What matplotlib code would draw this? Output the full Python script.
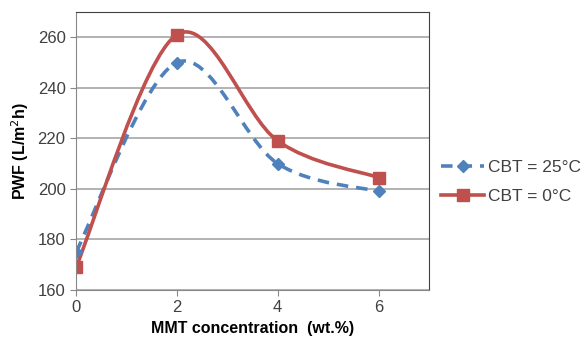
import matplotlib.pyplot as plt
import numpy as np
from matplotlib.path import Path
from matplotlib.patches import PathPatch
from matplotlib.lines import Line2D

plt.rcParams['font.family'] = ['Liberation Sans', 'DejaVu Sans']

mmt = [0, 2, 4, 6]
pwf_25 = [175, 250, 210, 199]
pwf_0 = [169, 261, 219, 204.5]
labels = ['CBT = 25°C', 'CBT = 0°C']

BLUE = '#4F81BD'
RED = '#C0504D'


def smooth_path(x, y):
    """Excel-style smoothed line as cubic Bezier segments."""
    pts = np.column_stack([x, y]).astype(float)
    n = len(pts)
    verts = [pts[0]]
    codes = [Path.MOVETO]
    for i in range(n - 1):
        p0 = pts[i - 1] if i > 0 else pts[i]
        p3 = pts[i + 2] if i + 2 < n else pts[i + 1]
        c1 = pts[i] + (pts[i + 1] - p0) / 6
        c2 = pts[i + 1] - (p3 - pts[i]) / 6
        verts += [c1, c2, pts[i + 1]]
        codes += [Path.CURVE4] * 3
    return Path(verts, codes)


fig = plt.figure(figsize=(5.82, 3.45), dpi=100)
ax = fig.add_axes([0.1306, 0.1594, 0.6065, 0.8059])

ax.add_patch(PathPatch(smooth_path(mmt, pwf_25), fill=False, edgecolor=BLUE,
                       lw=2.6, linestyle=(0, (3.2, 2.2))))
ax.plot(mmt, pwf_25, linestyle='none', marker='D', ms=6, color=BLUE)
ax.add_patch(PathPatch(smooth_path(mmt, pwf_0), fill=False, edgecolor=RED, lw=2.6))
ax.plot(mmt, pwf_0, linestyle='none', marker='s', ms=8, color=RED)

ax.set_xlim(0, 7)
ax.set_ylim(160, 270)
ax.set_xticks([0, 2, 4, 6])
ax.set_yticks(range(160, 261, 20))
ax.grid(axis='y', color='#A6A6A6', lw=1.2)
ax.set_axisbelow(True)
ax.tick_params(labelsize=12, colors='#404040', length=4, color='#888888')
for s in ['left', 'bottom']:
    ax.spines[s].set_color('#888888')
for s in ['top', 'right']:
    ax.spines[s].set_color('#404040')

ax.set_ylabel('PWF (L/m$^2$h)', fontsize=11.5, fontweight='bold', labelpad=5)
ax.set_xlabel('MMT concentration  (wt.%)', fontsize=11.5, fontweight='bold', labelpad=4)

handles = [
    Line2D([], [], color=BLUE, lw=2.6, linestyle=(0, (3.2, 2.2)), marker='D', ms=6),
    Line2D([], [], color=RED, lw=2.6, marker='s', ms=8),
]
ax.legend(handles, labels, loc='center left', bbox_to_anchor=(0.99, 0.39), frameon=False,
          fontsize=12.5, handlelength=2.5, handletextpad=0.2, labelspacing=0.8,
          labelcolor='#404040')

fig.savefig('out.png', dpi=100)
